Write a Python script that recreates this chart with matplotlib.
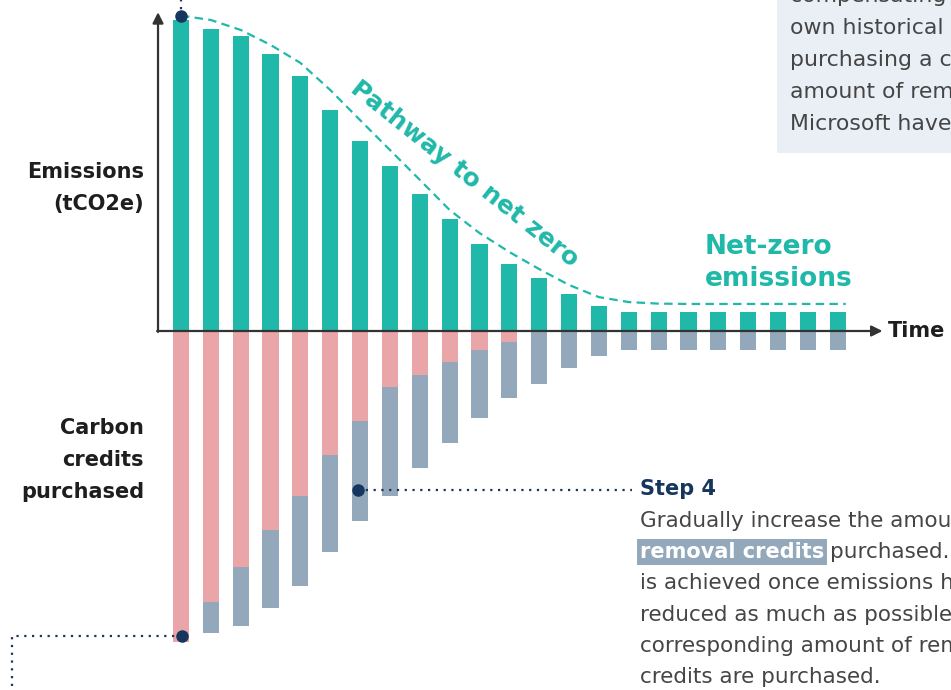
import matplotlib.pyplot as plt
import numpy as np

# bar data (arbitrary units, first year = 100)
emissions = [100, 97, 95, 89, 82, 71, 61, 53, 44, 36, 28, 21.5, 17, 12, 8, 6, 6, 6, 6, 6, 6, 6, 6]
avoidance = [100, 87, 76, 64, 53, 40, 29, 18, 14, 10, 6, 3.5, 0, 0, 0, 0, 0, 0, 0, 0, 0, 0, 0]
removal = [0, 10, 19, 25, 29, 31, 32, 35, 30, 26, 22, 18, 17, 12, 8, 6, 6, 6, 6, 6, 6, 6, 6]
pathway = [101.4, 100, 96.8, 92, 86.2, 77.5, 67.8, 58.2, 48.6, 38.9, 31.5, 25.4, 19.9,
           14.8, 10.9, 9.3, 8.8, 8.7, 8.7, 8.7, 8.7, 8.7, 8.7]

teal = '#20B8A9'
pink = '#E9A5A7'
grey = '#93A8BB'
navy = '#17365D'
dark = '#1E1E1E'
body = '#454545'

plt.rcParams['font.family'] = ['DejaVu Sans']

fig = plt.figure(figsize=(9.51, 6.9), dpi=100)
ax = fig.add_axes([0, 0, 1, 1])
ax.set_xlim(-181 / 29.85, 770 / 29.85)
ax.set_ylim(-359 / 3.11, 331 / 3.11)
ax.axis('off')

x = np.arange(len(emissions))
w = 0.54
ax.bar(x, emissions, width=w, color=teal, zorder=2)
ax.bar(x, [-v for v in avoidance], width=w, color=pink, zorder=2)
ax.bar(x, [-v for v in removal], bottom=[-v for v in avoidance], width=w, color=grey, zorder=2)

# pathway curve
px = list(x)
px[-1] = x[-1] + 0.27
ax.plot(px, pathway, color=teal, lw=1.6, ls=(0, (3.8, 2.4)), zorder=3)

# axes with arrows
ax0 = -0.77
ax.annotate('', xy=(ax0, 102.5), xytext=(ax0, -0.3),
            arrowprops=dict(arrowstyle='-|>', color='#333333', lw=1.6, mutation_scale=16,
                            shrinkA=0, shrinkB=0), zorder=4)
ax.annotate('', xy=(23.5, 0), xytext=(ax0 - 0.03, 0),
            arrowprops=dict(arrowstyle='-|>', color='#333333', lw=1.6, mutation_scale=16,
                            shrinkA=0, shrinkB=0), zorder=4)
ax.text(23.67, 0, 'Time', fontsize=15, fontweight='bold', color=dark, ha='left', va='center')

# left labels
ax.text(-1.24, 46, 'Emissions\n(tCO2e)', fontsize=15, fontweight='bold', color=dark,
        ha='right', va='center', linespacing=1.75)
ax.text(-1.24, -41.5, 'Carbon\ncredits\npurchased', fontsize=15, fontweight='bold', color=dark,
        ha='right', va='center', linespacing=1.75)

# annotations on the chart
ax.text(9.5, 50.5, 'Pathway to net zero', fontsize=18, fontweight='bold', color=teal,
        rotation=-38.5, rotation_mode='anchor', ha='center', va='center')
ax.text(17.55, 22, 'Net-zero\nemissions', fontsize=19, fontweight='bold', color=teal,
        ha='left', va='center', linespacing=1.3)

# dotted leaders and dots
dot_style = dict(color=navy, lw=1.6, ls=(0, (1, 2.5)), zorder=5)
ax.plot([0, 0], [101, 110], **dot_style)
ax.plot(0, 101.2, 'o', color=navy, ms=8, zorder=6)
ax.plot([5.93, 15.1], [-51.1, -51.1], **dot_style)
ax.plot(5.93, -51.1, 'o', color=navy, ms=8, zorder=6)
ax.plot([0.03, -5.66, -5.66], [-98, -98, -120], **dot_style)
ax.plot(0.03, -98, 'o', color=navy, ms=8, zorder=6)

# info panel top right
ax.add_patch(plt.Rectangle((777 / 951, 1 - 153 / 690), 1, 1, transform=ax.transAxes,
                           facecolor='#EAEFF6', edgecolor='none', zorder=1))
panel_lines = ['compensating for their', 'own historical emissions by',
               'purchasing a corresponding', 'amount of removal credits, as',
               'Microsoft have pledged to do.']
for i, line in enumerate(panel_lines):
    ax.text(790 / 951, 1 - (2 + 32 * i) / 690, line, transform=ax.transAxes, fontsize=15.8,
            color=body, ha='left', va='baseline', zorder=2)

# step 4 text
tx = 640 / 951
ax.text(tx, 1 - 495 / 690, 'Step 4', transform=ax.transAxes, fontsize=15,
        fontweight='bold', color=navy, ha='left', va='baseline')
step_lines = ['Gradually increase the amount of', None,
              'is achieved once emissions have been',
              'reduced as much as possible and a',
              'corresponding amount of removal',
              'credits are purchased.']
for i, line in enumerate(step_lines):
    if line:
        ax.text(tx, 1 - (527 + 31.2 * i) / 690, line, transform=ax.transAxes, fontsize=15.5,
                color=body, ha='left', va='baseline')
hl = ax.text(tx, 1 - 558 / 690, 'removal credits', transform=ax.transAxes, fontsize=15,
             fontweight='bold', color='white', ha='left', va='baseline',
             bbox=dict(boxstyle='square,pad=0.15', facecolor=grey, edgecolor='none'))
fig.canvas.draw()
bb = hl.get_window_extent()
ax.text((bb.x1 + 6) / 951, 1 - 558 / 690, 'purchased. Net zero', transform=ax.transAxes,
        fontsize=15.5, color=body, ha='left', va='baseline')

fig.savefig('out.png', dpi=100)
